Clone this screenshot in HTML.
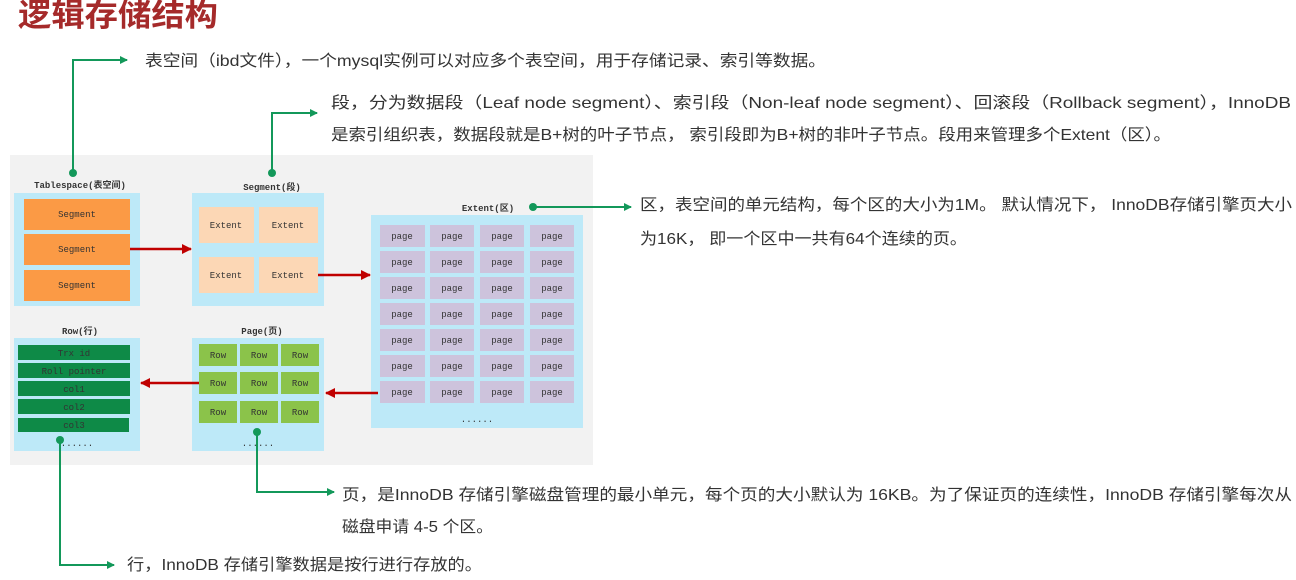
<!DOCTYPE html>
<html><head><meta charset="utf-8"><style>
body{margin:0;background:#fff;width:1296px;height:580px;overflow:hidden}
svg{display:block}
.t{font-family:"Liberation Sans","Noto Sans CJK SC",sans-serif;font-size:16px;fill:#333}
.m{font-family:"Liberation Mono","Noto Sans CJK SC",monospace;font-size:9px;fill:#333;text-anchor:middle}
.ml{font-family:"Liberation Mono","Noto Sans CJK SC",monospace;font-size:9px;fill:#333;text-anchor:middle;font-weight:bold}
</style></head><body>
<svg width="1296" height="580" xmlns="http://www.w3.org/2000/svg">
<defs>
<marker id="g" markerWidth="8" markerHeight="8" refX="7" refY="4" orient="auto" markerUnits="userSpaceOnUse"><path d="M0,0 L8,4 L0,8z" fill="#13985a"/></marker>
<marker id="r" markerWidth="10" markerHeight="10" refX="9" refY="5" orient="auto" markerUnits="userSpaceOnUse"><path d="M0,0 L10,5 L0,10z" fill="#c00000"/></marker>
</defs>
<text x="18" y="26" font-family="Liberation Sans,Noto Sans CJK SC,sans-serif" font-size="31" font-weight="bold" fill="#a52a2a" textLength="200" lengthAdjust="spacingAndGlyphs">逻辑存储结构</text>
<rect x="10" y="155" width="583" height="310" fill="#f2f2f2"/>
<text class="ml" x="80" y="188">Tablespace(表空间)</text>
<rect x="14" y="193" width="126" height="113" fill="#bde9f8"/>
<rect x="24" y="199" width="106" height="31" fill="#fb9a45"/><text class="m" x="77" y="217">Segment</text>
<rect x="24" y="234" width="106" height="31" fill="#fb9a45"/><text class="m" x="77" y="252" font-size="8">Segment</text>
<rect x="24" y="270" width="106" height="31" fill="#fb9a45"/><text class="m" x="77" y="288">Segment</text>
<text class="ml" x="272" y="190">Segment(段)</text>
<rect x="192" y="193" width="132" height="113" fill="#bde9f8"/>
<rect x="199" y="207" width="55" height="36" fill="#fcd7b5"/><text class="m" x="226" y="228">Extent</text>
<rect x="259" y="207" width="59" height="36" fill="#fcd7b5"/><text class="m" x="288" y="228">Extent</text>
<rect x="199" y="257" width="55" height="36" fill="#fcd7b5"/><text class="m" x="226" y="278">Extent</text>
<rect x="259" y="257" width="59" height="36" fill="#fcd7b5"/><text class="m" x="288" y="278">Extent</text>
<text class="ml" x="488" y="211">Extent(区)</text>
<rect x="371" y="215" width="212" height="213" fill="#bde9f8"/>
<text class="m" x="477" y="422" font-size="12">......</text>
<text class="ml" x="80" y="334">Row(行)</text>
<rect x="14" y="338" width="126" height="113" fill="#bde9f8"/>
<rect x="18" y="345" width="112" height="15" fill="#0e8a47"/><text class="m" x="74" y="356">Trx id</text>
<rect x="18" y="363" width="112" height="15" fill="#0e8a47"/><text class="m" x="74" y="374">Roll pointer</text>
<rect x="18" y="381" width="112" height="15" fill="#0e8a47"/><text class="m" x="74" y="392">col1</text>
<rect x="18" y="399" width="112" height="15" fill="#0e8a47"/><text class="m" x="74" y="410">col2</text>
<rect x="18" y="418" width="111" height="14" fill="#0e8a47"/><text class="m" x="74" y="428">col3</text>
<text class="m" x="77" y="446">......</text>
<text class="ml" x="262" y="334">Page(页)</text>
<rect x="192" y="338" width="132" height="113" fill="#bde9f8"/>
<g font-family="Liberation Mono,monospace" font-size="9" fill="#333" text-anchor="middle">
<rect x="199" y="344" width="38" height="22" fill="#8bc34a"/><text x="218" y="358">Row</text>
<rect x="240" y="344" width="38" height="22" fill="#8bc34a"/><text x="259" y="358">Row</text>
<rect x="281" y="344" width="38" height="22" fill="#8bc34a"/><text x="300" y="358">Row</text>
<rect x="199" y="372" width="38" height="22" fill="#8bc34a"/><text x="218" y="386">Row</text>
<rect x="240" y="372" width="38" height="22" fill="#8bc34a"/><text x="259" y="386">Row</text>
<rect x="281" y="372" width="38" height="22" fill="#8bc34a"/><text x="300" y="386">Row</text>
<rect x="199" y="401" width="38" height="22" fill="#8bc34a"/><text x="218" y="415">Row</text>
<rect x="240" y="401" width="38" height="22" fill="#8bc34a"/><text x="259" y="415">Row</text>
<rect x="281" y="401" width="38" height="22" fill="#8bc34a"/><text x="300" y="415">Row</text>
</g>
<text class="m" x="258" y="446">......</text>
<g stroke="#c00000" stroke-width="2.5" fill="none">
<line x1="130" y1="249" x2="191" y2="249" marker-end="url(#r)"/>
<line x1="318" y1="275" x2="370" y2="275" marker-end="url(#r)"/>
<line x1="378" y1="393" x2="326" y2="393" marker-end="url(#r)"/>
<line x1="199" y1="383" x2="141" y2="383" marker-end="url(#r)"/>
</g>
<g stroke="#13985a" stroke-width="2" fill="none">
<polyline points="73,173 73,60 127,60" marker-end="url(#g)"/>
<polyline points="272,173 272,113 317,113" marker-end="url(#g)"/>
<polyline points="533,207 631,207" marker-end="url(#g)"/>
<polyline points="257,432 257,492 334,492" marker-end="url(#g)"/>
<polyline points="60,440 60,565 114,565" marker-end="url(#g)"/>
</g>
<g fill="#13985a">
<circle cx="73" cy="173" r="4"/><circle cx="272" cy="173" r="4"/><circle cx="533" cy="207" r="4"/><circle cx="257" cy="432" r="4"/><circle cx="60" cy="440" r="4"/>
</g>
<text class="t" x="145" y="66" textLength="681" lengthAdjust="spacingAndGlyphs">表空间（ibd文件），一个mysql实例可以对应多个表空间，用于存储记录、索引等数据。</text>
<text class="t" x="331" y="108" textLength="960" lengthAdjust="spacingAndGlyphs">段，分为数据段（Leaf node segment）、索引段（Non-leaf node segment）、回滚段（Rollback segment），InnoDB</text>
<text class="t" x="331" y="140" textLength="840" lengthAdjust="spacingAndGlyphs">是索引组织表，数据段就是B+树的叶子节点， 索引段即为B+树的非叶子节点。段用来管理多个Extent（区）。</text>
<text class="t" x="640" y="210" textLength="652" lengthAdjust="spacingAndGlyphs">区，表空间的单元结构，每个区的大小为1M。 默认情况下， InnoDB存储引擎页大小</text>
<text class="t" x="640" y="244" textLength="327" lengthAdjust="spacingAndGlyphs">为16K， 即一个区中一共有64个连续的页。</text>
<text class="t" x="342" y="500" textLength="950" lengthAdjust="spacingAndGlyphs">页，是InnoDB 存储引擎磁盘管理的最小单元，每个页的大小默认为 16KB。为了保证页的连续性，InnoDB 存储引擎每次从</text>
<text class="t" x="342" y="532" textLength="151" lengthAdjust="spacingAndGlyphs">磁盘申请 4-5 个区。</text>
<text class="t" x="127" y="570" textLength="355" lengthAdjust="spacingAndGlyphs">行，InnoDB 存储引擎数据是按行进行存放的。</text>
<g font-family="Liberation Mono,monospace" font-size="9" fill="#333" text-anchor="middle">
<rect x="380" y="225" width="45" height="22" fill="#cdc3dc"/><text x="402" y="239">page</text><rect x="430" y="225" width="44" height="22" fill="#cdc3dc"/><text x="452" y="239">page</text><rect x="480" y="225" width="44" height="22" fill="#cdc3dc"/><text x="502" y="239">page</text><rect x="530" y="225" width="44" height="22" fill="#cdc3dc"/><text x="552" y="239">page</text>
<rect x="380" y="251" width="45" height="22" fill="#cdc3dc"/><text x="402" y="265">page</text><rect x="430" y="251" width="44" height="22" fill="#cdc3dc"/><text x="452" y="265">page</text><rect x="480" y="251" width="44" height="22" fill="#cdc3dc"/><text x="502" y="265">page</text><rect x="530" y="251" width="44" height="22" fill="#cdc3dc"/><text x="552" y="265">page</text>
<rect x="380" y="277" width="45" height="22" fill="#cdc3dc"/><text x="402" y="291">page</text><rect x="430" y="277" width="44" height="22" fill="#cdc3dc"/><text x="452" y="291">page</text><rect x="480" y="277" width="44" height="22" fill="#cdc3dc"/><text x="502" y="291">page</text><rect x="530" y="277" width="44" height="22" fill="#cdc3dc"/><text x="552" y="291">page</text>
<rect x="380" y="303" width="45" height="22" fill="#cdc3dc"/><text x="402" y="317">page</text><rect x="430" y="303" width="44" height="22" fill="#cdc3dc"/><text x="452" y="317">page</text><rect x="480" y="303" width="44" height="22" fill="#cdc3dc"/><text x="502" y="317">page</text><rect x="530" y="303" width="44" height="22" fill="#cdc3dc"/><text x="552" y="317">page</text>
<rect x="380" y="329" width="45" height="22" fill="#cdc3dc"/><text x="402" y="343">page</text><rect x="430" y="329" width="44" height="22" fill="#cdc3dc"/><text x="452" y="343">page</text><rect x="480" y="329" width="44" height="22" fill="#cdc3dc"/><text x="502" y="343">page</text><rect x="530" y="329" width="44" height="22" fill="#cdc3dc"/><text x="552" y="343">page</text>
<rect x="380" y="355" width="45" height="22" fill="#cdc3dc"/><text x="402" y="369">page</text><rect x="430" y="355" width="44" height="22" fill="#cdc3dc"/><text x="452" y="369">page</text><rect x="480" y="355" width="44" height="22" fill="#cdc3dc"/><text x="502" y="369">page</text><rect x="530" y="355" width="44" height="22" fill="#cdc3dc"/><text x="552" y="369">page</text>
<rect x="380" y="381" width="45" height="22" fill="#cdc3dc"/><text x="402" y="395">page</text><rect x="430" y="381" width="44" height="22" fill="#cdc3dc"/><text x="452" y="395">page</text><rect x="480" y="381" width="44" height="22" fill="#cdc3dc"/><text x="502" y="395">page</text><rect x="530" y="381" width="44" height="22" fill="#cdc3dc"/><text x="552" y="395">page</text>
</g>
</svg>
</body></html>
